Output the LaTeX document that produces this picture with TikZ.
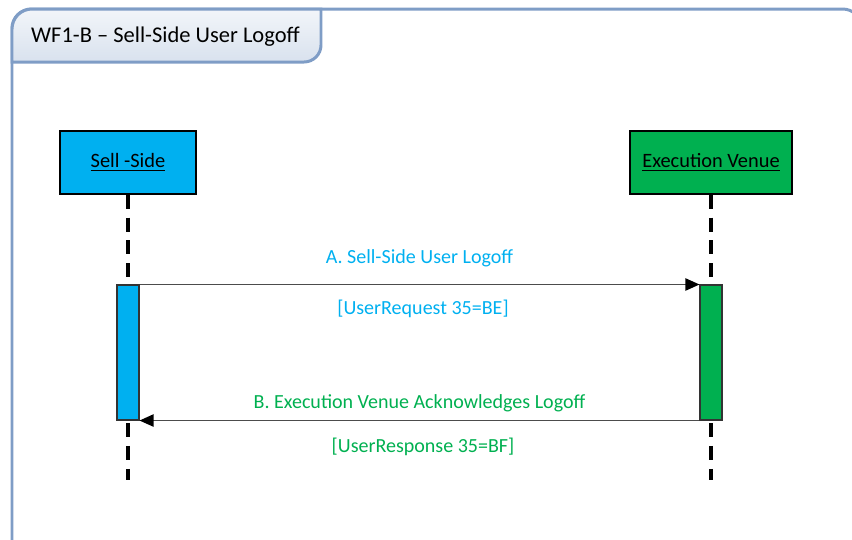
\documentclass[tikz,border=0pt]{standalone}
\usepackage{fontspec}
\setmainfont{Carlito}
\usetikzlibrary{arrows.meta}

\definecolor{sellblue}{HTML}{00B0F0}
\definecolor{venuegreen}{HTML}{00B050}
\definecolor{framegray}{HTML}{7F9DC6}

\tikzset{
  actor/.style={draw=black, line width=0.8pt, minimum width=#1, minimum height=1.26cm,
    font=\fontsize{11.6}{13}\selectfont, inner sep=0pt},
  lifeline/.style={black, line width=2pt, dash pattern=on 8pt off 5pt},
  bar/.style={draw=black!80, line width=0.6pt, minimum width=0.44cm, minimum height=2.7cm, inner sep=0pt},
  msg/.style={black!70, line width=0.8pt, -{Triangle[length=8pt,width=7pt,black]}},
  msgtext/.style={font=\fontsize{11.4}{13}\selectfont}
}

\begin{document}
\begin{tikzpicture}[x=0.02cm, y=-0.02cm]
    \useasboundingbox (0,0) rectangle (852,539);

    % frame and tab
    \draw[framegray, line width=1.7pt, rounded corners=11pt] (12,542) -- (12,9) -- (862,9) -- (862,542);
    \shade[top color=framegray!10, bottom color=framegray!30, draw=framegray, line width=1.7pt]
      (12,62) -- (12,29) arc (180:270:20) -- (321,9) -- (321,45) arc (0:90:17) -- cycle;
    \node[anchor=west, font=\fontsize{12.8}{14}\selectfont] (title) at (25,37) {WF1-B -- Sell-Side User Logoff};

    % actors
    \node[actor=2.72cm, fill=sellblue] (sell) at (128,162.5) {\underline{Sell -Side}};
    \node[actor=3.24cm, fill=venuegreen] (venue) at (711,162.5) {\underline{Execution Venue}};

    % lifelines
    \coordinate (sellend) at (128,480);
    \coordinate (venueend) at (711,480);
    \draw[lifeline] (sell.south) -- (sellend);
    \draw[lifeline] (venue.south) -- (venueend);

    % activation bars
    \node[bar, fill=sellblue] (sellbar) at (128,352.5) {};
    \node[bar, fill=venuegreen] (venuebar) at (711,352.5) {};

    % messages
    \draw[msg] (sellbar.north east) -- node[msgtext, sellblue, yshift=15pt] (reqtitle) {A. Sell-Side User Logoff}
      node[msgtext, sellblue, yshift=-14pt, xshift=2pt] (reqcode) {[UserRequest 35=BE]} (venuebar.north west);
    \draw[msg] (venuebar.south west) -- node[msgtext, venuegreen, yshift=10pt] (resptitle) {B. Execution Venue Acknowledges Logoff}
      node[msgtext, venuegreen, yshift=-15pt, xshift=2pt] (respcode) {[UserResponse 35=BF]} (sellbar.south east);
\end{tikzpicture}
\end{document}
